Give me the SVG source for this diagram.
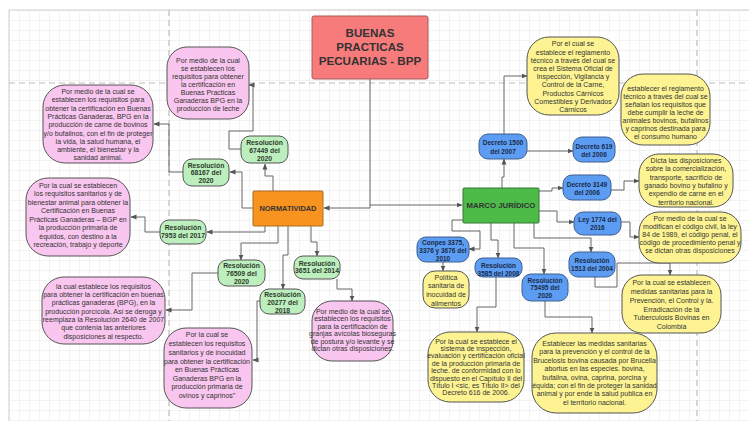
<svg xmlns="http://www.w3.org/2000/svg" width="749" height="421" viewBox="0 0 749 421">
<defs>
<pattern id="grid" x="9" y="10" width="10" height="10" patternUnits="userSpaceOnUse">
<path d="M0,0 H10 M0,0 V10" fill="none" stroke="#e2e2e2" stroke-width="0.8"/>
</pattern>
<marker id="arr" markerWidth="6" markerHeight="6" refX="5.5" refY="3" orient="auto" markerUnits="userSpaceOnUse">
<path d="M0,0.5 L6,3 L0,5.5 z" fill="#555"/>
</marker>
</defs>
<style>
text{font-family:"Liberation Sans",Arial,sans-serif;text-anchor:middle;dominant-baseline:central;fill:#333}
.pink{fill:#f8c6ef;stroke:#555;stroke-width:1}
.yel{fill:#fdf392;stroke:#555;stroke-width:1}
.grn{fill:#bdeebd;stroke:#555;stroke-width:1}
.blu{fill:#5c9df3;stroke:#3d5f8f;stroke-width:1}
.gt{font-size:6.8px;font-weight:bold;fill:#2c3b2c}
.bt{font-size:6.5px;font-weight:bold;fill:#1a2a48}
.pt{font-size:7px}
.yt{font-size:7px}
.con path{fill:none;stroke:#666;stroke-width:1;marker-end:url(#arr)}
.dash{stroke:#bdbdbd;stroke-width:1.2;stroke-dasharray:6 4;fill:none}
</style>
<rect x="0" y="0" width="749" height="421" fill="#ffffff"/>
<rect x="9" y="10" width="740" height="411" fill="url(#grid)"/>
<path d="M9,421 V10 H749" fill="none" stroke="#cfcfcf" stroke-width="1"/>
<path class="dash" d="M9,83 H749 M169,10 V421 M697,10 V421"/>

<g id="connectors" class="con">
<path d="M370,79 V208 H324"/>
<path d="M370,205 H462"/>
<path d="M273,191 V176 H265 V164"/>
<path d="M253,208 H242 V172 H230"/>
<path d="M265,226 V232 H207"/>
<path d="M278,226 V243 H241 V260"/>
<path d="M288,226 V255 H283 V289"/>
<path d="M311,226 V242 H317 V256"/>
<path d="M241,149 H229 V131 H253 V85 H249"/>
<path d="M183,172 H169 V124 H154"/>
<path d="M160,232 H145 V217 H131"/>
<path d="M218,273 H192 V310 H166"/>
<path d="M260,301 H257 V360 H253"/>
<path d="M337,279 V289 H352 V301"/>
<path d="M502,188 V177 H504 V159"/>
<path d="M504,134 V76 H527"/>
<path d="M527,151 H573"/>
<path d="M539,191 H552 V188 H563"/>
<path d="M611,190 H624 V181 H639"/>
<path d="M539,211 H557 V222 H574"/>
<path d="M621,222 H630 V237 H639"/>
<path d="M534,223 V238 H591 V252"/>
<path d="M595,277 V287 H617 V263 H670 V275"/>
<path d="M463,220 H452 V231 H480 V249 H469"/>
<path d="M443,262 V271"/>
<path d="M491,223 V240 H498 V258"/>
<path d="M514,223 V248 H544 V274"/>
<path d="M496,277 V307 H477 V332"/>
<path d="M545,301 V317 H592 V333"/>
</g>

<g id="title">
<rect x="312" y="16" width="116" height="63" rx="2" fill="#f77b7b" stroke="#a85a5a"/>
<text font-size="11.6" font-weight="bold"><tspan x="370" y="32">BUENAS</tspan><tspan x="370" y="46">PRACTICAS</tspan><tspan x="370" y="60">PECUARIAS - BPP</tspan></text>
</g>

<g id="normatividad">
<rect x="253" y="191" width="70" height="35" rx="1" fill="#f7931e" stroke="#a86a28"/>
<text x="288" y="208.5" font-size="7.4" font-weight="bold">NORMATIVIDAD</text>
</g>

<g id="marco">
<rect x="463" y="188" width="76" height="35" rx="1" fill="#4cbb48" stroke="#357a33"/>
<text x="501" y="205.5" font-size="7.8" font-weight="bold">MARCO JURÍDICO</text>
</g>

<g id="res67449">
<rect class="grn" x="241" y="136" width="47" height="27" rx="9"/>
<text class="gt"><tspan x="264.5" y="142.3">Resolución</tspan><tspan x="264.5" y="150">67449 del</tspan><tspan x="264.5" y="157.7">2020</tspan></text>
</g>
<g id="res68167">
<rect class="grn" x="183" y="159" width="46" height="27" rx="9"/>
<text class="gt"><tspan x="206" y="164.5">Resolución</tspan><tspan x="206" y="172.2">68167 del</tspan><tspan x="206" y="179.9">2020</tspan></text>
</g>
<g id="res7953">
<rect class="grn" x="160" y="220" width="46" height="24" rx="9"/>
<text class="gt"><tspan x="183" y="227">Resolución</tspan><tspan x="183" y="235">7953 del 2017</tspan></text>
</g>
<g id="res76509">
<rect class="grn" x="218" y="260" width="47" height="26" rx="9"/>
<text class="gt"><tspan x="241.5" y="265">Resolución</tspan><tspan x="241.5" y="272.8">76509 del</tspan><tspan x="241.5" y="280.6">2020</tspan></text>
</g>
<g id="res3651">
<rect class="grn" x="294" y="256" width="46" height="23" rx="9"/>
<text class="gt"><tspan x="317" y="262.6">Resolución</tspan><tspan x="317" y="270.4">3651 del 2014</tspan></text>
</g>
<g id="res20277">
<rect class="grn" x="260" y="289" width="45" height="25" rx="9"/>
<text class="gt"><tspan x="282.5" y="294.4">Resolución</tspan><tspan x="282.5" y="302">20277 del</tspan><tspan x="282.5" y="309.6">2018</tspan></text>
</g>

<g id="p1">
<rect class="pink" x="167" y="47" width="82" height="72" rx="20"/>
<text class="pt" font-size="7.4"><tspan x="208" y="60">Por medio de la cual</tspan><tspan x="208" y="68.2">se establecen los</tspan><tspan x="208" y="76.2">requisitos para obtener</tspan><tspan x="208" y="84.1">la certificación en</tspan><tspan x="208" y="92">Buenas Practicas</tspan><tspan x="208" y="100">Ganaderas BPG en la</tspan><tspan x="208" y="108.2">producción de leche</tspan></text>
</g>
<g id="p2">
<rect class="pink" x="43" y="85" width="110" height="78" rx="22"/>
<text class="pt"><tspan x="98" y="91">Por medio de la cual se</tspan><tspan x="98" y="99.4">establecen los requisitos para</tspan><tspan x="98" y="107.7">obtener la certificación en Buenas</tspan><tspan x="98" y="116">Prácticas Ganaderas, BPG en la</tspan><tspan x="98" y="124.3">producción de carne de bovinos</tspan><tspan x="98" y="132.5">y/o bufalinos, con el fin de proteger</tspan><tspan x="98" y="140.8">la vida, la salud humana, el</tspan><tspan x="98" y="149">ambiente, el bienestar y la</tspan><tspan x="98" y="157.3">sanidad animal.</tspan></text>
</g>
<g id="p3">
<rect class="pink" x="26" y="178" width="104" height="78" rx="22"/>
<text class="pt"><tspan x="78" y="185">Por la cual se establecen</tspan><tspan x="78" y="193.4">los requisitos sanitarios y de</tspan><tspan x="78" y="201.8">bienestar animal para obtener la</tspan><tspan x="78" y="210.4">Certificación en Buenas</tspan><tspan x="78" y="218.8">Prácticas Ganaderas – BGP en</tspan><tspan x="78" y="227.2">la producción primaria de</tspan><tspan x="78" y="235.6">équidos, con destino a la</tspan><tspan x="78" y="244">recreación, trabajo y deporte</tspan></text>
</g>
<g id="p4">
<rect class="pink" x="42" y="277" width="123" height="67" rx="22"/>
<text class="pt"><tspan x="103.5" y="285.7">la cual establece los requisitos</tspan><tspan x="103.5" y="294">para obtener la certificación en buenas</tspan><tspan x="103.5" y="302.3">prácticas ganaderas (BPG), en la</tspan><tspan x="103.5" y="310.6">producción porcícola. Así se deroga y</tspan><tspan x="103.5" y="319">reemplaza la Resolución 2640 de 2007</tspan><tspan x="103.5" y="327.3">que contenía las anteriores</tspan><tspan x="103.5" y="335.6">disposiciones al respecto.</tspan></text>
</g>
<g id="p5">
<rect class="pink" x="164" y="328" width="88" height="80" rx="22"/>
<text class="pt"><tspan x="207" y="334">Por la cual se</tspan><tspan x="207" y="343">establecen los requisitos</tspan><tspan x="207" y="351.7">sanitarios y de inocuidad</tspan><tspan x="207" y="360.5">para obtener la certificación</tspan><tspan x="207" y="369">en Buenas Prácticas</tspan><tspan x="207" y="377.5">Ganaderas BPG en la</tspan><tspan x="207" y="386">producción primaria de</tspan><tspan x="207" y="394.5">ovinos y caprinos"</tspan></text>
</g>
<g id="p6">
<rect class="pink" x="312" y="301" width="81" height="60" rx="20"/>
<text class="pt" font-size="6.4"><tspan x="352.5" y="311">Por medio de la cual se</tspan><tspan x="352.5" y="318.4">establecen los requisitos</tspan><tspan x="352.5" y="325.8">para la certificación de</tspan><tspan x="352.5" y="333.2">granjas avícolas bioseguras</tspan><tspan x="352.5" y="340.6">de postura y/o levante y se</tspan><tspan x="352.5" y="348">dictan otras disposiciones.</tspan></text>
</g>

<g id="dec1500">
<rect class="blu" x="479" y="134" width="48" height="25" rx="9"/>
<text class="bt"><tspan x="503" y="142.4">Decreto 1500</tspan><tspan x="503" y="151">del 2007</tspan></text>
</g>
<g id="dec619">
<rect class="blu" x="573" y="137" width="42" height="25" rx="9"/>
<text class="bt"><tspan x="594" y="145.7">Decreto 619</tspan><tspan x="594" y="154.2">del 2006</tspan></text>
</g>
<g id="dec3149">
<rect class="blu" x="563" y="175" width="48" height="25" rx="9"/>
<text class="bt"><tspan x="587" y="183.5">Decreto 3149</tspan><tspan x="587" y="191.8">del 2006</tspan></text>
</g>
<g id="ley1774">
<rect class="blu" x="574" y="212" width="47" height="23" rx="9"/>
<text class="bt"><tspan x="597.5" y="219.2">Ley 1774 del</tspan><tspan x="597.5" y="227">2016</tspan></text>
</g>
<g id="res1513">
<rect class="blu" x="569" y="252" width="46" height="25" rx="9"/>
<text class="bt"><tspan x="592" y="259.5">Resolución</tspan><tspan x="592" y="267.5">1513 del 2004</tspan></text>
</g>
<g id="conpes">
<rect class="blu" x="417" y="237" width="52" height="25" rx="9"/>
<text class="bt"><tspan x="443" y="242">Conpes 3375,</tspan><tspan x="443" y="250">3376 y 3676 del</tspan><tspan x="443" y="257.8">2010</tspan></text>
</g>
<g id="res3585">
<rect class="blu" x="475" y="258" width="47" height="19" rx="8"/>
<text class="bt"><tspan x="498.5" y="264.6">Resolución</tspan><tspan x="498.5" y="272.6">3585 del 2008</tspan></text>
</g>
<g id="res75495">
<rect class="blu" x="522" y="274" width="46" height="27" rx="9"/>
<text class="bt"><tspan x="545" y="279.6">Resolución</tspan><tspan x="545" y="287.4">75495 del</tspan><tspan x="545" y="295.2">2020</tspan></text>
</g>

<g id="y1">
<rect class="yel" x="527" y="37" width="92" height="78" rx="22"/>
<text class="yt"><tspan x="573" y="42.8">Por el cual se</tspan><tspan x="573" y="51.5">establece el reglamento</tspan><tspan x="573" y="59.9">técnico a través del cual se</tspan><tspan x="573" y="68">crea el Sistema Oficial de</tspan><tspan x="573" y="76.2">Inspección, Vigilancia y</tspan><tspan x="573" y="84.4">Control de la Carne,</tspan><tspan x="573" y="92.6">Productos Cárnicos</tspan><tspan x="573" y="100.8">Comestibles y Derivados</tspan><tspan x="573" y="109">Cárnicos</tspan></text>
</g>
<g id="y2">
<rect class="yel" x="621" y="74" width="89" height="71" rx="22"/>
<text class="yt"><tspan x="665.5" y="88.3">establecer el reglamento</tspan><tspan x="665.5" y="96.4">técnico a través del cual se</tspan><tspan x="665.5" y="104.4">señalan los requisitos que</tspan><tspan x="665.5" y="112.3">debe cumplir la leche de</tspan><tspan x="665.5" y="120.2">animales bovinos, bufalinos</tspan><tspan x="665.5" y="128.2">y caprinos destinada para</tspan><tspan x="665.5" y="136.1">el consumo humano</tspan></text>
</g>
<g id="y3">
<rect class="yel" x="639" y="154" width="94" height="53" rx="20"/>
<text class="yt" font-size="7.4"><tspan x="686" y="160">Dicta las disposiciones</tspan><tspan x="686" y="168.3">sobre la comercialización,</tspan><tspan x="686" y="176.7">transporte, sacrificio de</tspan><tspan x="686" y="185">ganado bovino y bufalino y</tspan><tspan x="686" y="193.3">expendio de carne en el</tspan><tspan x="686" y="201.7">territorio nacional.</tspan></text>
</g>
<g id="y4">
<rect class="yel" x="639" y="212" width="102" height="51" rx="20"/>
<text class="yt" font-size="7.2"><tspan x="690" y="218.3">Por medio de la cual se</tspan><tspan x="690" y="226.2">modifican el código civil, la ley</tspan><tspan x="690" y="234.2">84 de 1989, el código penal, el</tspan><tspan x="690" y="242.2">código de procedimiento penal y</tspan><tspan x="690" y="250.1">se dictan otras disposiciones</tspan></text>
</g>
<g id="y5">
<rect class="yel" x="622" y="275" width="99" height="58" rx="20"/>
<text class="yt" font-size="7.5"><tspan x="671.5" y="281.7">Por la cual se establecen</tspan><tspan x="671.5" y="290.7">medidas sanitarias para la</tspan><tspan x="671.5" y="299.7">Prevención, el Control y la.</tspan><tspan x="671.5" y="308.6">Erradicación de la</tspan><tspan x="671.5" y="317.3">Tuberculosis Bovinas en</tspan><tspan x="671.5" y="325.8">Colombia</tspan></text>
</g>
<g id="y6">
<rect class="yel" x="423" y="271" width="46" height="37" rx="12"/>
<text class="yt" font-size="7.8"><tspan x="446" y="276.7">Política</tspan><tspan x="446" y="285.2">sanitaria de</tspan><tspan x="446" y="294">inocuidad de</tspan><tspan x="446" y="302.6">alimentos</tspan></text>
</g>
<g id="y7">
<rect class="yel" x="428" y="332" width="96" height="70" rx="22"/>
<text class="yt" font-size="6.4"><tspan x="476" y="341">Por la cual se establece el</tspan><tspan x="476" y="348">sistema de inspección,</tspan><tspan x="476" y="355.2">evaluación y certificación oficial</tspan><tspan x="476" y="362.5">de la producción primaria de</tspan><tspan x="476" y="370">leche. de conformidad con lo</tspan><tspan x="476" y="377.6">dispuesto en el Capítulo II del</tspan><tspan x="476" y="385">Título I &lt;sic, es Título II&gt; del</tspan><tspan x="476" y="392.4">Decreto 616 de 2006.</tspan></text>
</g>
<g id="y8">
<rect class="yel" x="532" y="333" width="125" height="80" rx="24"/>
<text class="yt" font-size="6.9"><tspan x="594.5" y="342.7">Establecer las medidas sanitarias</tspan><tspan x="594.5" y="351">para la prevención y el control de la</tspan><tspan x="594.5" y="359.6">Brucelosis bovina causada por Brucella</tspan><tspan x="594.5" y="368.2">abortus en las especies. bovina,</tspan><tspan x="594.5" y="376.6">bufalina, ovina, caprina, porcina y</tspan><tspan x="594.5" y="385">équida; con el fin de proteger la sanidad</tspan><tspan x="594.5" y="393.3">animal y por ende la salud publica en</tspan><tspan x="594.5" y="401.6">el territorio nacional.</tspan></text>
</g>
</svg>
